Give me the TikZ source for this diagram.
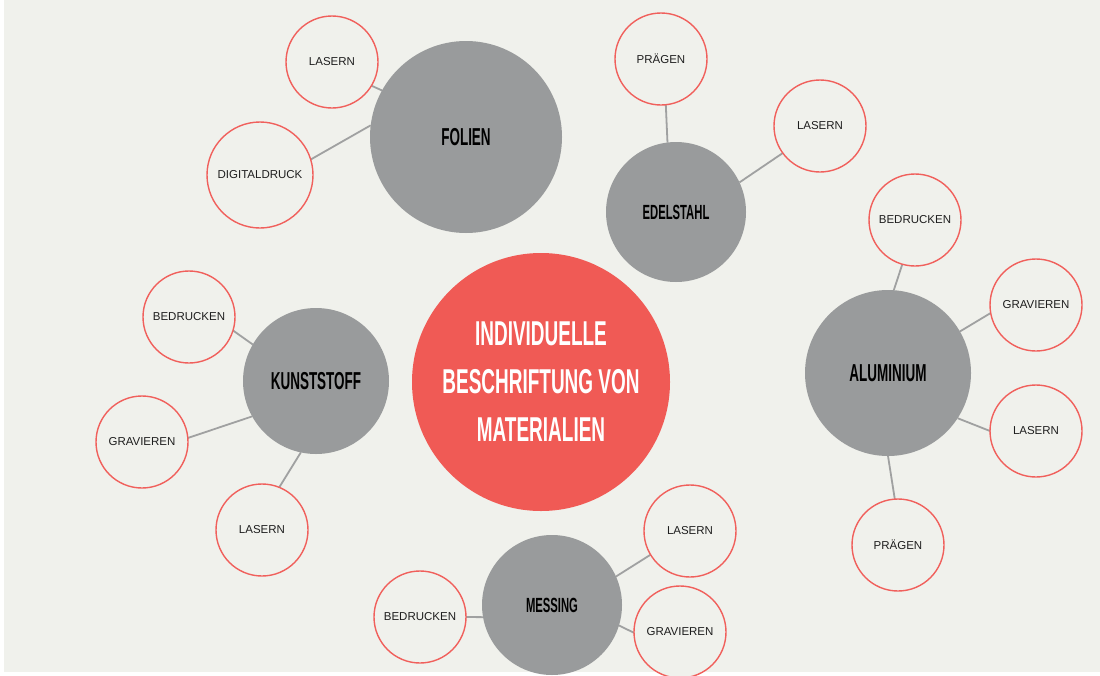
\documentclass[tikz,border=0pt]{standalone}
\usepackage{fontspec}
\setmainfont{Liberation Sans}
\newfontfamily\bebas[FakeStretch=0.55]{Liberation Sans}
\usetikzlibrary{backgrounds}
\definecolor{bg}{HTML}{F0F1EC}
\definecolor{hubc}{HTML}{F05A55}
\definecolor{ringc}{HTML}{F0605C}
\definecolor{matc}{HTML}{999B9C}
\definecolor{linkc}{HTML}{A0A1A1}
\definecolor{ink}{HTML}{1E1E1E}
\begin{document}
\begin{tikzpicture}[x=1pt,y=-1pt,
  hubnode/.style={circle,fill=hubc,inner sep=0pt,outer sep=0pt,minimum size=258pt,text=white,align=center,
    font=\bebas\bfseries\fontsize{34.5}{48}\selectfont},
  matnode/.style={circle,fill=matc,inner sep=0pt,outer sep=0pt,text=black,
    font=\bebas\bfseries\fontsize{24.5}{28}\selectfont},
  smallmat/.style={font=\bebas\bfseries\fontsize{20.5}{24}\selectfont},
  leaf/.style={circle,draw=ringc,line width=1.4pt,fill=bg,inner sep=0pt,outer sep=0pt,minimum size=92pt,text=ink,
    font=\fontsize{11.5}{13}\selectfont},
  conn/.style={draw=linkc,line width=1.8pt}]
\useasboundingbox (0,0) rectangle (1100,675);
% hub and materials
\node[hubnode] (hub) at (541,382) {INDIVIDUELLE\\BESCHRIFTUNG VON\\MATERIALIEN};
\node[matnode,minimum size=192pt] (fol) at (466,137) {FOLIEN};
\node[matnode,smallmat,minimum size=140pt] (ede) at (676,212) {EDELSTAHL};
\node[matnode,minimum size=146pt] (kun) at (316,381) {KUNSTSTOFF};
\node[matnode,minimum size=166pt] (alu) at (888,373) {ALUMINIUM};
\node[matnode,smallmat,minimum size=140pt] (mes) at (552,605) {MESSING};
% leaves
\node[leaf] (fl1) at (332,62) {LASERN};
\node[leaf,minimum size=106pt] (fl2) at (260,175) {DIGITALDRUCK};
\node[leaf] (el1) at (661,59) {PRÄGEN};
\node[leaf] (el2) at (820,126) {LASERN};
\node[leaf] (al1) at (915,220) {BEDRUCKEN};
\node[leaf] (al2) at (1036,305) {GRAVIEREN};
\node[leaf] (al3) at (1036,431) {LASERN};
\node[leaf] (al4) at (898,545) {PRÄGEN};
\node[leaf] (kl1) at (189,317) {BEDRUCKEN};
\node[leaf] (kl2) at (142,442) {GRAVIEREN};
\node[leaf] (kl3) at (262,530) {LASERN};
\node[leaf] (ml1) at (420,617) {BEDRUCKEN};
\node[leaf] (ml2) at (690,531) {LASERN};
\node[leaf] (ml3) at (680,632) {GRAVIEREN};
\begin{pgfonlayer}{background}
\fill[white] (0,0) rectangle (1100,675);
\fill[bg] (4,0) rectangle (1100,672);
\draw[conn] (fl1.-31) -- (fol.151);
\draw[conn] (fl2.17) -- (fol.173);
\draw[conn] (el1.-84) -- (ede.97);
\draw[conn] (el2.216) -- (ede.25);
\draw[conn] (al1.-106) -- (alu.86);
\draw[conn] (al2.190) -- (alu.30);
\draw[conn] (al3.180) -- (alu.-33);
\draw[conn] (al4.94) -- (alu.-90);
\draw[conn] (kl1.-17) -- (kun.150);
\draw[conn] (kl2.5) -- (kun.209);
\draw[conn] (kl3.68) -- (kun.-102);
\draw[conn] (ml1.0) -- (mes.190);
\draw[conn] (ml2.211) -- (mes.24);
\draw[conn] (ml3.181) -- (mes.-17);
\end{pgfonlayer}
\end{tikzpicture}
\end{document}
